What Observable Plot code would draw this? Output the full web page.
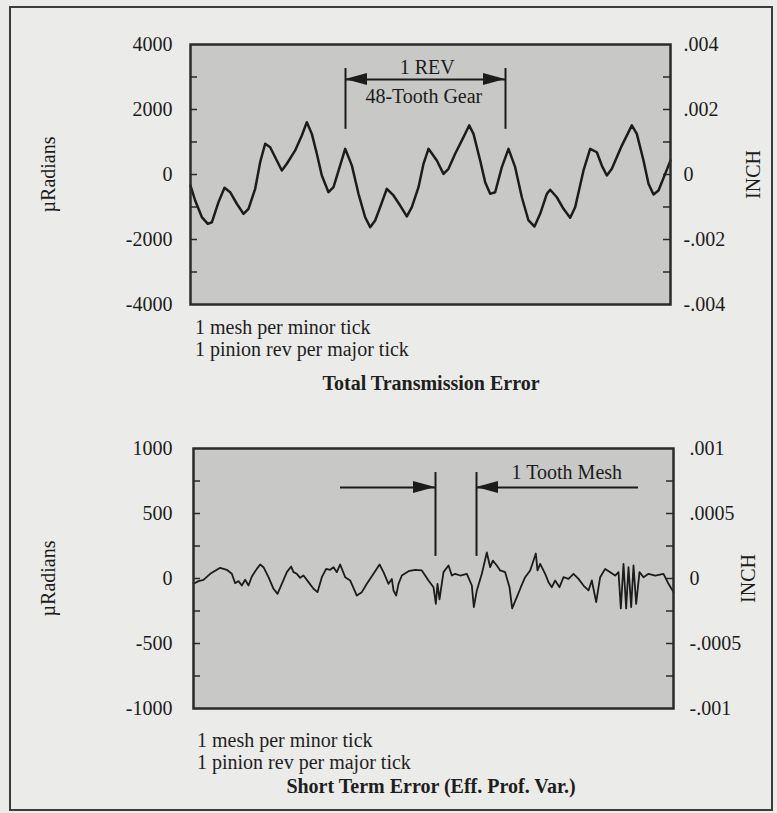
<!DOCTYPE html>
<html>
<head>
<meta charset="utf-8">
<script src="https://cdn.jsdelivr.net/npm/d3@7"></script>
<script src="https://cdn.jsdelivr.net/npm/@observablehq/plot@0.6"></script>
<style>
html, body { margin: 0; padding: 0; background: #ebebe9; }
#fig { position: relative; width: 777px; height: 813px; overflow: hidden; background: #ebebe9;
  font-family: "Liberation Serif", "Times New Roman", serif; color: #1e1e1e; }
.frame { position: absolute; left: 9px; top: 6px; width: 764px; height: 805px; border: 2px solid #3c3c3c; box-sizing: border-box; }
.chart { position: absolute; left: 0; }
.cap { position: absolute; font-size: 20px; line-height: 22px; white-space: nowrap; }
.ttl { position: absolute; font-size: 20px; line-height: 22px; font-weight: bold; white-space: nowrap; transform: translateX(-50%); }
</style>
</head>
<body>
<div id="fig">
  <div class="frame"></div>
  <div id="topChart" class="chart" style="top:0px"></div>
  <div id="botChart" class="chart" style="top:410px"></div>
</div>
<script>
// ---------- data: Total Transmission Error (mesh index vs µradians) ----------
const topMesh = [0, 1.4, 3.4, 5.2, 6.4, 8.4, 10.2, 11.9, 13.9, 15.9,
  17.4, 19.4, 20.9, 22.4, 23.9, 25.9, 27.4, 28.9, 31.4, 33.4,
  34.9, 36.4, 37.9, 39.4, 41.4, 42.9, 44.9, 46.4, 48.4, 50.4,
  52.4, 53.9, 55.4, 56.9, 58.9, 60.9, 62.9, 64.9, 66.4, 68.4,
  69.9, 71.4, 73.9, 75.9, 77.4, 79.4, 81.9, 83.6, 84.9, 86.9,
  88.4, 89.9, 91.4, 93.4, 95.4, 97.4, 99.4, 101.4, 103.2, 104.9,
  106.9, 107.9, 109.9, 111.9, 113.9, 115.4, 117.9, 119.9, 121.9, 123.4,
  124.9, 126.4, 129.4, 132.4, 133.9, 135.9, 137.4, 138.9, 140.4, 142.4,
  144];
const topMicroRad = [-340, -800, -1310, -1520, -1470, -850, -410, -545, -900, -1210,
  -1055, -440, 380, 945, 840, 430, 125, 330, 740, 1200,
  1610, 1250, 640, -30, -545, -390, 280, 790, 280, -595,
  -1315, -1620, -1415, -1005, -440, -645, -955, -1290, -1005, -390,
  330, 790, 430, 20, 175, 640, 1150, 1510, 1250, 430,
  -235, -595, -545, 225, 790, 225, -700, -1415, -1600, -1210,
  -595, -470, -700, -1055, -1330, -1005, 125, 790, 685, 275,
  -30, 175, 890, 1510, 1250, 430, -285, -615, -490, 20,
  430];

// ---------- data: Short Term Error ----------
const botMesh = [0, 1.5, 3, 5, 8, 10, 11.5, 12.5, 13.5, 14.5,
  15.5, 16.5, 17.5, 19, 20, 21, 22.5, 24, 25.2, 26.5,
  28, 29.3, 30, 31, 32, 33, 34.5, 36, 37.2, 38.5,
  39.8, 41, 42, 43, 44, 45.5, 47, 49, 50.5, 52,
  54, 55.8, 57, 58.5, 59.5, 60, 60.8, 61.5, 62.5, 64.5,
  66.5, 68.5, 70.5, 72, 72.7, 73.2, 73.8, 75, 76.5, 77.5,
  78.5, 80, 82, 83.5, 84.1, 85, 86.5, 88, 89, 89.8,
  91, 92, 93.5, 94.8, 95.6, 97, 98.2, 99.5, 101, 102.7,
  103.2, 104, 105.5, 106.5, 107.5, 108.5, 109.8, 111, 112.5, 114,
  115.5, 117, 118.5, 119.5, 120.8, 122, 123.5, 125, 126.5, 127.5,
  128.2, 129, 129.8, 130.5, 131.3, 132, 132.8, 133.8, 135, 136.5,
  138.5, 141, 142.5, 144];
const botMicroRad = [-40, -20, -10, 36, 82, 67, 36, -36, -20, -54,
  -10, -54, 15, 74, 108, 87, 10, -79, -118, -41,
  49, 92, 49, 36, 5, 23, -28, -79, -105, 10,
  74, 67, 87, 49, 108, 10, -15, -131, -105, -41,
  36, 108, 49, -41, -3, -92, -131, -41, 23, 56,
  67, 62, -15, -67, -195, -41, -160, 49, 100, 23,
  36, 23, 36, -54, -220, -92, 36, 200, 87, 138,
  100, 62, 49, -67, -230, -144, -67, 10, 62, 192,
  62, 113, 36, -28, -67, -15, -67, 10, -3, 36,
  -3, -54, -92, -15, -182, 10, 74, 49, 23, 49,
  -230, 113, -230, 87, -220, 100, -195, 49, 10, 36,
  23, 36, -41, -105];

// ---------- axes ----------
const xDomain = [0, 144];
const topDomain = [-4000, 4000];
const topLabelTicks = [-4000, -2000, 0, 2000, 4000];
const topLeftLabels = ["-4000", "-2000", "0", "2000", "4000"];
const topRightLabels = ["-.004", "-.002", "0", ".002", ".004"];
const topMinorTicks = [-3000, -2000, -1000, 0, 1000, 2000, 3000];
const botDomain = [-1000, 1000];
const botLabelTicks = [-1000, -500, 0, 500, 1000];
const botLeftLabels = ["-1000", "-500", "0", "500", "1000"];
const botRightLabels = ["-.001", "-.0005", "0", ".0005", ".001"];
const botMinorTicks = [-750, -500, -250, 0, 250, 500, 750];
const yTitle = "µRadians";
const y2Title = "INCH";

// ---------- texts ----------
const captionLines = ["1 mesh per minor tick", "1 pinion rev per major tick"];
const topTitle = "Total Transmission Error";
const botTitle = "Short Term Error (Eff. Prof. Var.)";

// ---------- annotations (data coordinates) ----------
const revBars = [46.5, 94.5];
const revBarSpan = [3260, 1390];
const revArrowY = 2920;
const revLabels = [{x: 71, y: 3290, text: "1 REV"}, {x: 70, y: 2400, text: "48-Tooth Gear"}];
const meshBars = [72.6, 84.9];
const meshBarSpan = [815, 170];
const meshArrowY = 700;
const meshArrowTails = [44.1, 133.5];
const meshLabels = [{x: 112, y: 815, text: "1 Tooth Mesh"}];

const INK = "#1c1c1c";

function zip(xs, ys) { return xs.map((x, i) => ({x, y: ys[i]})); }

function arrowHeads(heads) {
  return (index, scales) => {
    const g = d3.create("svg:g").attr("fill", INK);
    for (const h of heads) {
      const px = scales.x(h.x), py = scales.y(h.y), s = h.dir;
      g.append("path").attr("d", `M${px},${py}L${px - s * 22},${py - 6}L${px - s * 22},${py + 6}Z`);
    }
    return g.node();
  };
}

function panel(o) {
  const fw = 777 - o.ml - o.mr;
  return Plot.plot({
    width: 777, height: o.height,
    marginTop: o.mt, marginBottom: o.mb, marginLeft: o.ml, marginRight: o.mr,
    style: {background: "transparent", fontFamily: "'Liberation Serif', 'Times New Roman', serif", fontSize: "20px", color: INK},
    x: {domain: xDomain, axis: null},
    y: {domain: o.domain},
    marks: [
      Plot.frame({fill: "#c8c8c6"}),
      Plot.tickY(o.minor, {stroke: "#2a2a2a", strokeWidth: 1.5, insetRight: fw - 7}),
      Plot.tickY(o.minor, {stroke: "#2a2a2a", strokeWidth: 1.5, insetLeft: fw - 7}),
      Plot.axisY({anchor: "left", ticks: o.ticks, tickSize: 0, tickPadding: o.padL, label: null,
        tickFormat: d => o.leftLabels[o.ticks.indexOf(d)]}),
      Plot.axisY({anchor: "right", ticks: o.ticks, tickSize: 0, tickPadding: o.padR, label: null,
        tickFormat: d => o.rightLabels[o.ticks.indexOf(d)]}),
      Plot.line(o.data, {x: "x", y: "y", stroke: INK, strokeWidth: o.lineWidth, strokeLinejoin: "round"}),
      ...o.annotations,
      Plot.text([yTitle], {frameAnchor: "left", dx: o.titleDxL, rotate: -90, textAnchor: "middle", lineAnchor: "middle"}),
      Plot.text([y2Title], {frameAnchor: "right", dx: o.titleDxR, rotate: -90, textAnchor: "middle", lineAnchor: "middle"}),
      Plot.frame({stroke: "#2a2a2a", strokeWidth: 2.5})
    ]
  });
}

const topChart = panel({
  data: zip(topMesh, topMicroRad), domain: topDomain, lineWidth: 2.5,
  ticks: topLabelTicks, leftLabels: topLeftLabels, rightLabels: topRightLabels, minor: topMinorTicks,
  height: 316, mt: 44, mb: 12, ml: 190, mr: 107, padL: 18, padR: 13, titleDxL: -142, titleDxR: 83,
  annotations: [
    Plot.ruleX(revBars, {y1: revBarSpan[0], y2: revBarSpan[1], stroke: INK, strokeWidth: 2}),
    Plot.ruleY([revArrowY], {x1: revBars[0], x2: revBars[1], stroke: INK, strokeWidth: 2}),
    arrowHeads([{x: revBars[0], y: revArrowY, dir: -1}, {x: revBars[1], y: revArrowY, dir: 1}]),
    Plot.text(revLabels, {x: "x", y: "y", text: "text", fill: INK})
  ]
});
document.getElementById("topChart").append(topChart);

const botChart = panel({
  data: zip(botMesh, botMicroRad), domain: botDomain, lineWidth: 1.8,
  ticks: botLabelTicks, leftLabels: botLeftLabels, rightLabels: botRightLabels, minor: botMinorTicks,
  height: 310, mt: 38, mb: 12, ml: 193, mr: 104, padL: 21, padR: 16, titleDxL: -145, titleDxR: 75,
  annotations: [
    Plot.ruleX(meshBars, {y1: meshBarSpan[0], y2: meshBarSpan[1], stroke: INK, strokeWidth: 2}),
    Plot.ruleY([meshArrowY], {x1: meshArrowTails[0], x2: meshBars[0], stroke: INK, strokeWidth: 2}),
    Plot.ruleY([meshArrowY], {x1: meshBars[1], x2: meshArrowTails[1], stroke: INK, strokeWidth: 2}),
    arrowHeads([{x: meshBars[0], y: meshArrowY, dir: 1}, {x: meshBars[1], y: meshArrowY, dir: -1}]),
    Plot.text(meshLabels, {x: "x", y: "y", text: "text", fill: INK})
  ]
});
document.getElementById("botChart").append(botChart);

// captions and titles
const fig = document.getElementById("fig");
function addDiv(cls, html, left, top) {
  const d = document.createElement("div");
  d.className = cls; d.innerHTML = html;
  d.style.left = left + "px"; d.style.top = top + "px";
  fig.append(d);
}
addDiv("cap", captionLines.join("<br>"), 195, 316);
addDiv("ttl", topTitle, 431, 372);
addDiv("cap", captionLines.join("<br>"), 197, 729);
addDiv("ttl", botTitle, 431, 775);
</script>
</body>
</html>
